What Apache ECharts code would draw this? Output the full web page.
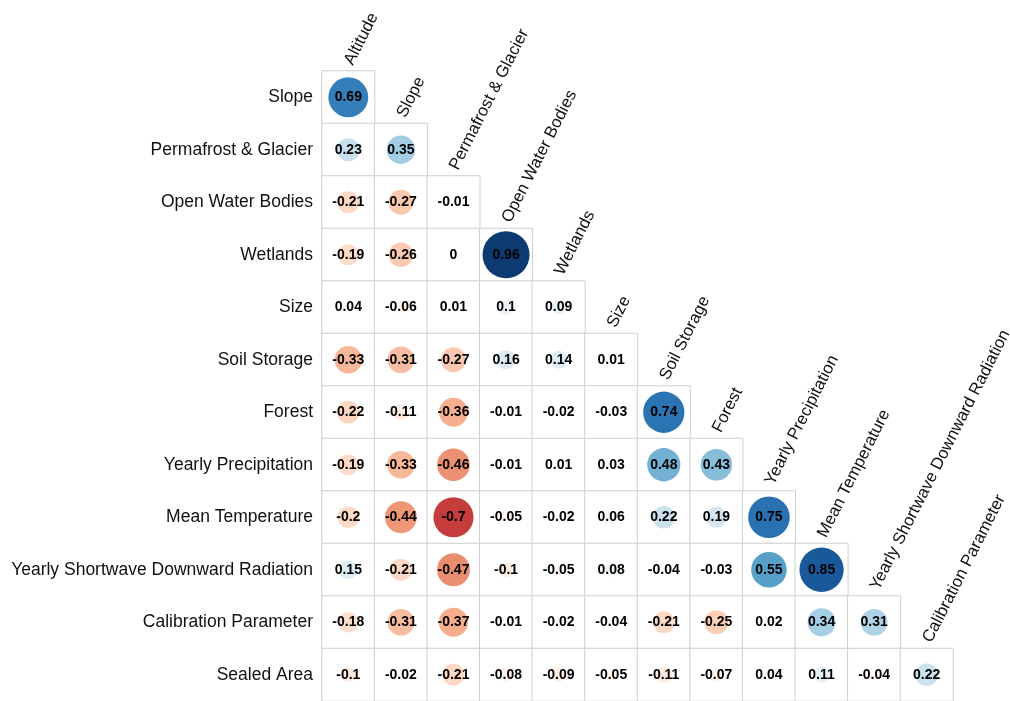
<!DOCTYPE html>
<html>
<head>
<meta charset="utf-8">
<script src="https://cdn.jsdelivr.net/npm/echarts@6/dist/echarts.min.js"></script>
<style>
  html, body { margin: 0; padding: 0; background: #fff; }
  #chart { width: 1010px; height: 701px; }
</style>
</head>
<body>
<div id="chart"></div>
<script>
// Variables: columns run from Altitude to Calibration Parameter,
// rows from Slope to Sealed Area (lower triangle of the correlation matrix).
const columnLabels = [
  'Altitude', 'Slope', 'Permafrost & Glacier', 'Open Water Bodies', 'Wetlands',
  'Size', 'Soil Storage', 'Forest', 'Yearly Precipitation', 'Mean Temperature',
  'Yearly Shortwave Downward Radiation', 'Calibration Parameter'
];
const rowLabels = [
  'Slope', 'Permafrost & Glacier', 'Open Water Bodies', 'Wetlands', 'Size',
  'Soil Storage', 'Forest', 'Yearly Precipitation', 'Mean Temperature',
  'Yearly Shortwave Downward Radiation', 'Calibration Parameter', 'Sealed Area'
];

// Correlation coefficients, one array per row
const rSlope        = [0.69];
const rPermafrost   = [0.23, 0.35];
const rOpenWater    = [-0.21, -0.27, -0.01];
const rWetlands     = [-0.19, -0.26, 0, 0.96];
const rSize         = [0.04, -0.06, 0.01, 0.1, 0.09];
const rSoilStorage  = [-0.33, -0.31, -0.27, 0.16, 0.14, 0.01];
const rForest       = [-0.22, -0.11, -0.36, -0.01, -0.02, -0.03, 0.74];
const rPrecip       = [-0.19, -0.33, -0.46, -0.01, 0.01, 0.03, 0.48, 0.43];
const rTemperature  = [-0.2, -0.44, -0.7, -0.05, -0.02, 0.06, 0.22, 0.19, 0.75];
const rRadiation    = [0.15, -0.21, -0.47, -0.1, -0.05, 0.08, -0.04, -0.03, 0.55, 0.85];
const rCalibration  = [-0.18, -0.31, -0.37, -0.01, -0.02, -0.04, -0.21, -0.25, 0.02, 0.34, 0.31];
const rSealedArea   = [-0.1, -0.02, -0.21, -0.08, -0.09, -0.05, -0.11, -0.07, 0.04, 0.11, -0.04, 0.22];

const rows = [rSlope, rPermafrost, rOpenWater, rWetlands, rSize, rSoilStorage,
  rForest, rPrecip, rTemperature, rRadiation, rCalibration, rSealedArea];

// Diverging red-blue palette, -1 (red) to +1 (blue)
const rdbu = ['#67001F', '#B2182B', '#D6604D', '#F4A582', '#FDDBC7', '#FFFFFF',
  '#D1E5F0', '#92C5DE', '#4393C3', '#2166AC', '#053061'];

const FONT = 'Arial, "Liberation Sans", sans-serif';

const cells = [];
const points = [];
rows.forEach((vals, i) => {
  vals.forEach((v, j) => {
    cells.push([j, i, 0]);
    points.push([j, i, v]);
  });
});
const headers = columnLabels.map((name, j) => [j, j, name]);

const chart = echarts.init(document.getElementById('chart'), null, { renderer: 'canvas' });
chart.setOption({
  animation: false,
  backgroundColor: '#fff',
  grid: { left: 322, top: 71, width: 631, height: 631, containLabel: false },
  xAxis: {
    type: 'category',
    data: columnLabels,
    axisLine: { show: false }, axisTick: { show: false },
    axisLabel: { show: false }, splitLine: { show: false }
  },
  yAxis: {
    type: 'category',
    data: rowLabels,
    inverse: true,
    axisLine: { show: false }, axisTick: { show: false }, splitLine: { show: false },
    axisLabel: { color: '#111', fontSize: 17.5, fontFamily: FONT, margin: 9 }
  },
  visualMap: {
    show: false,
    type: 'continuous',
    seriesIndex: 1,
    dimension: 2,
    min: -1,
    max: 1,
    inRange: { color: rdbu }
  },
  series: [
    {
      // cell frames of the lower triangle
      type: 'heatmap',
      data: cells,
      itemStyle: { color: '#ffffff', borderColor: '#cfcfcf', borderWidth: 1 },
      emphasis: { disabled: true },
      silent: true,
      z: 1
    },
    {
      // circles: area proportional to |r|
      type: 'scatter',
      data: points,
      symbol: 'circle',
      symbolSize: d => Math.max(Math.sqrt(Math.abs(d[2])) * 48, 0.5),
      itemStyle: { opacity: 1 },
      silent: true,
      z: 3,
      label: {
        show: true,
        position: 'inside',
        formatter: p => String(p.value[2]),
        color: '#000',
        fontSize: 14,
        fontWeight: 'bold',
        fontFamily: FONT
      }
    },
    {
      // slanted column headers sitting on the diagonal
      type: 'scatter',
      data: headers,
      symbolSize: 1,
      itemStyle: { color: 'rgba(0,0,0,0)', opacity: 1 },
      silent: true,
      z: 4,
      labelLayout: { hideOverlap: false },
      label: {
        show: true,
        position: [8.5, -29],
        rotate: 63,
        align: 'left',
        verticalAlign: 'bottom',
        formatter: p => p.value[2],
        color: '#111',
        fontSize: 16.8,
        fontFamily: FONT
      }
    }
  ]
});
</script>
</body>
</html>
